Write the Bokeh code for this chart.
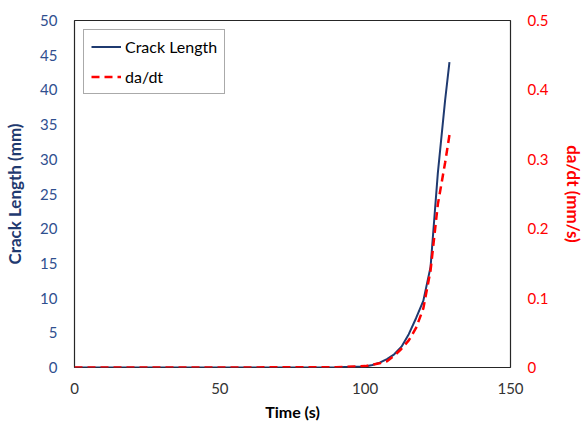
from bokeh.plotting import figure
from bokeh.models import Range1d, LinearAxis, FixedTicker, Legend, LegendItem
from bokeh.embed import file_html
from bokeh.resources import INLINE

# Data
time_crack = [0, 50, 90, 100, 102.5, 105, 107.5, 110, 112.5, 115, 117.5, 120, 122.5, 125, 127.5, 129]
crack_length = [0, 0, 0.05, 0.15, 0.35, 0.7, 1.2, 1.9, 3.0, 4.8, 7.1, 9.6, 14.5, 28, 38.5, 44]
time_rate = [0, 50, 90, 100, 102.5, 105, 107.5, 110, 112.5, 115, 117.5, 120, 122.5, 125, 127.5, 129]
dadt = [0, 0, 0.0005, 0.002, 0.004, 0.006, 0.009, 0.017, 0.027, 0.039, 0.057, 0.085, 0.14, 0.235, 0.295, 0.335]

x_ticks = [0, 50, 100, 150]
left_ticks = [0, 5, 10, 15, 20, 25, 30, 35, 40, 45, 50]
right_ticks = [0, 0.1, 0.2, 0.3, 0.4, 0.5]

FONT = "Lato"
BLUE = "#1F3A70"
BLUE_TICK = "#2F4F8F"
RED = "#FF0000"

p = figure(width=587, height=423, output_backend="svg", toolbar_location=None,
           x_range=Range1d(0, 150), y_range=Range1d(0, 50),
           min_border_left=74, min_border_right=71, min_border_top=20, min_border_bottom=55)
p.extra_y_ranges = {"rate": Range1d(0, 0.5)}

p.xgrid.visible = False
p.ygrid.visible = False
p.outline_line_color = "#262626"
p.outline_line_width = 1.2
p.background_fill_color = "white"
p.border_fill_color = "white"

l1 = p.line(time_crack, crack_length, line_color=BLUE, line_width=2)
l2 = p.line(time_rate, dadt, line_color=RED, line_width=2.5, line_dash="8 5", y_range_name="rate")

def style_axis(ax):
    ax.axis_label_text_font = FONT
    ax.axis_label_text_font_style = "bold"
    ax.axis_label_text_font_size = "17px"
    ax.major_label_text_font = FONT
    ax.major_label_text_font_size = "15px"
    ax.major_tick_out = 0
    ax.major_tick_in = 0
    ax.minor_tick_out = 0
    ax.minor_tick_in = 0
    ax.axis_line_color = None

# X axis
xa = p.xaxis[0]
style_axis(xa)
xa.ticker = FixedTicker(ticks=x_ticks)
xa.axis_label = "Time (s)"
xa.axis_label_text_font_size = "16px"
xa.axis_label_text_color = "#000000"
xa.axis_label_standoff = 5
xa.major_label_text_color = "#333333"
xa.major_label_standoff = 15

# Left axis
ya = p.yaxis[0]
style_axis(ya)
ya.ticker = FixedTicker(ticks=left_ticks)
ya.axis_label = "Crack Length (mm)"
ya.axis_label_text_color = BLUE
ya.axis_label_standoff = 12
ya.major_label_text_color = BLUE_TICK
ya.major_label_standoff = 17

# Right axis
ra = LinearAxis(y_range_name="rate", ticker=FixedTicker(ticks=right_ticks))
style_axis(ra)
ra.axis_label = "da/dt (mm/s)"
ra.axis_label_text_color = RED
ra.axis_label_standoff = 12
ra.major_label_text_color = RED
ra.major_label_standoff = 17
ra.major_label_overrides = {0: "0", 0.1: "0.1", 0.2: "0.2", 0.3: "0.3", 0.4: "0.4", 0.5: "0.5"}
p.add_layout(ra, "right")

legend = Legend(items=[LegendItem(label="Crack Length", renderers=[l1]),
                       LegendItem(label="da/dt", renderers=[l2])],
                location="top_left")
legend.margin = 9
legend.padding = 7
legend.spacing = 11
legend.glyph_width = 30
legend.glyph_height = 17
legend.label_height = 17
legend.label_standoff = 4
legend.label_text_font = FONT
legend.label_text_font_size = "16px"
legend.label_text_color = "#000000"
legend.border_line_color = "#555555"
legend.border_line_width = 1
legend.background_fill_alpha = 1
p.add_layout(legend)

open("out.html", "w").write(file_html(p, INLINE))
